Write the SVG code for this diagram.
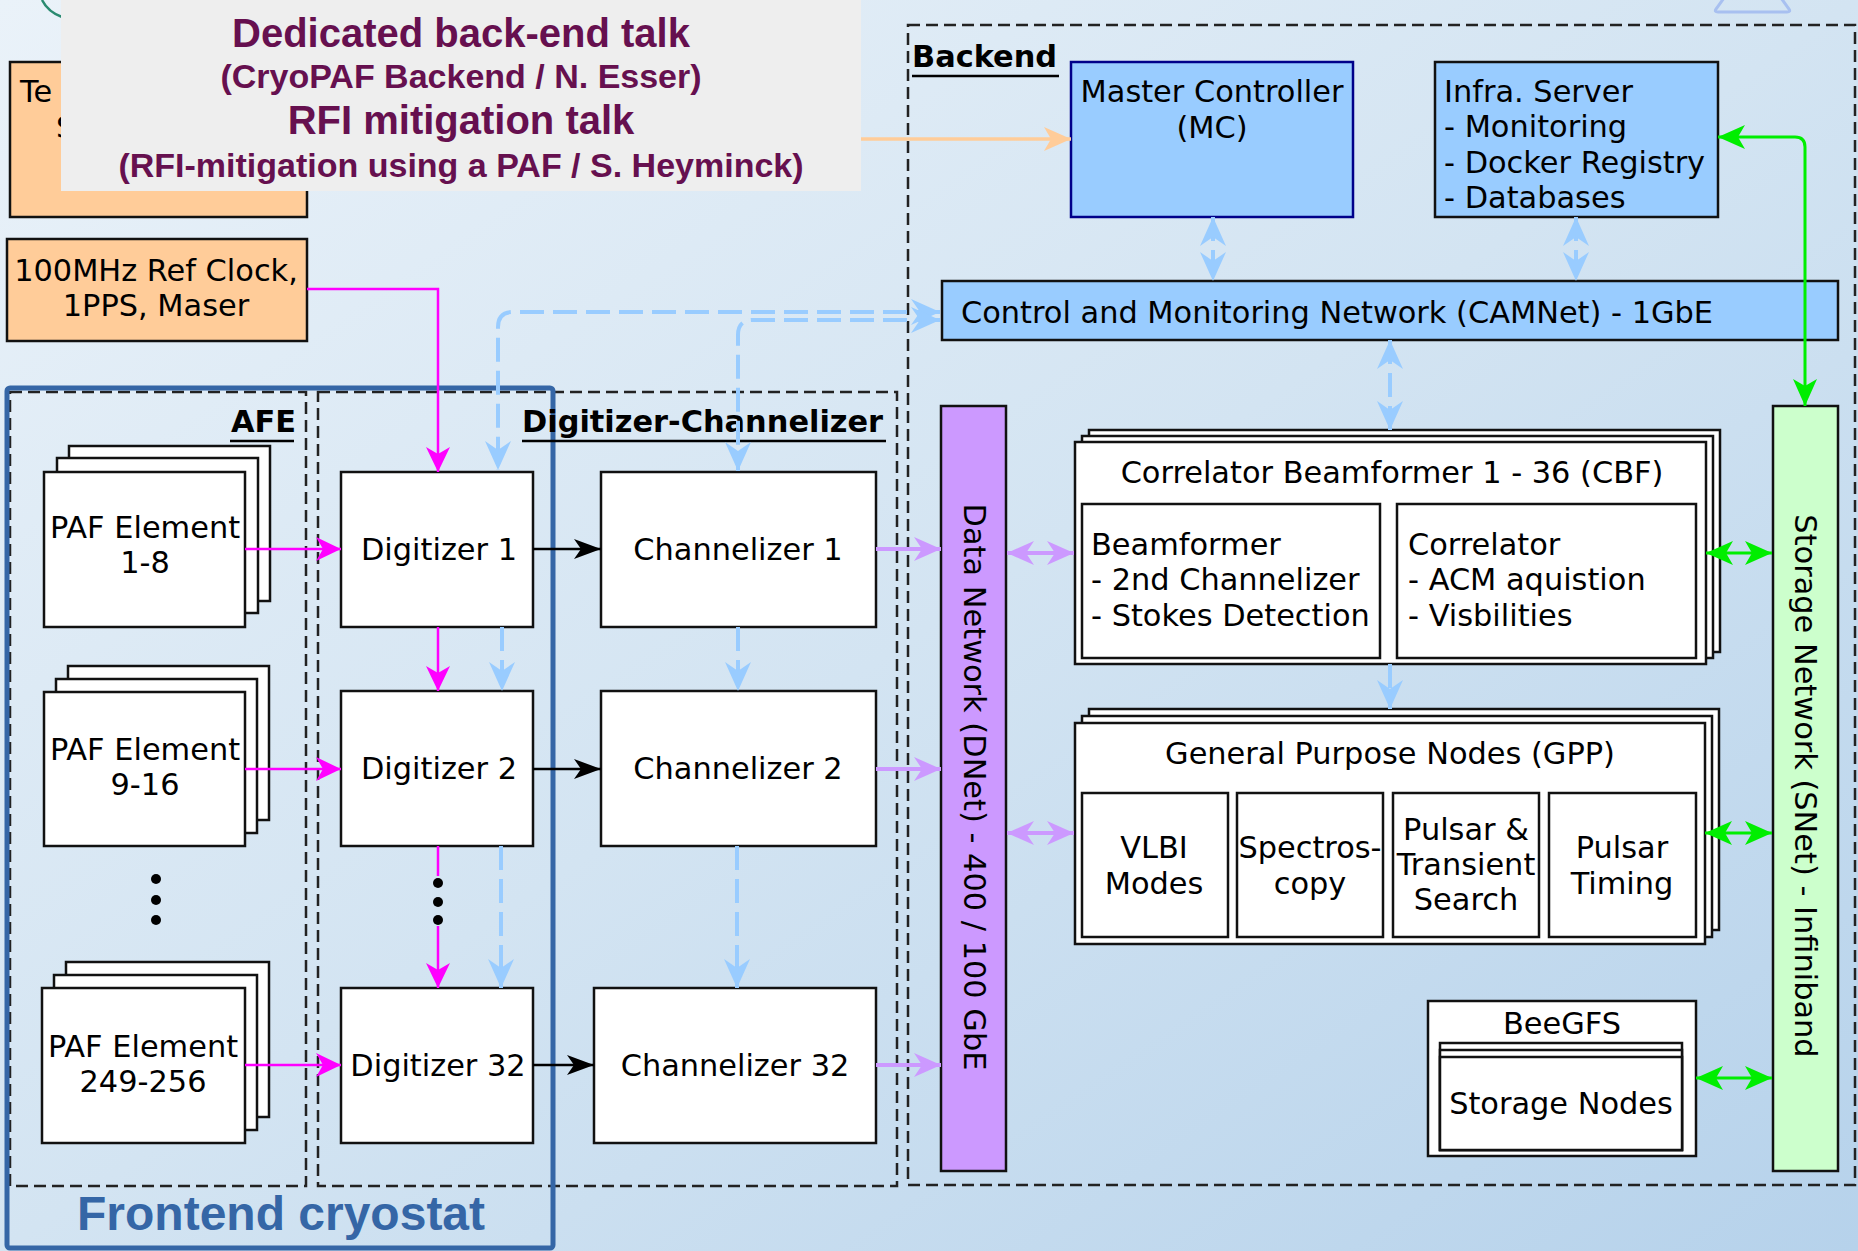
<svg xmlns="http://www.w3.org/2000/svg" width="1858" height="1251" viewBox="0 0 1858 1251">
<defs>
<linearGradient id="bg" x1="0" y1="0" x2="1" y2="1">
<stop offset="0" stop-color="#eaf2f9"/>
<stop offset="0.5" stop-color="#d3e4f2"/>
<stop offset="1" stop-color="#b6d2eb"/>
</linearGradient>
<marker id="mBlack" markerUnits="userSpaceOnUse" viewBox="0 0 28 22" markerWidth="28" markerHeight="22" refX="27" refY="11" orient="auto-start-reverse"><path d="M0,1 L27,11 L0,21 L7,11 z" fill="#000"/></marker>
<marker id="mMag" markerUnits="userSpaceOnUse" viewBox="0 0 26 24" markerWidth="26" markerHeight="24" refX="25" refY="12" orient="auto-start-reverse"><path d="M0,0 L25,12 L0,24 L7,12 z" fill="#ff00ff"/></marker>
<marker id="mBlue" markerUnits="userSpaceOnUse" viewBox="0 0 30 26" markerWidth="30" markerHeight="26" refX="29" refY="13" orient="auto-start-reverse"><path d="M0,0 L29,13 L0,26 L9,13 z" fill="#99ccff"/></marker>
<marker id="mPurple" markerUnits="userSpaceOnUse" viewBox="0 0 28 24" markerWidth="28" markerHeight="24" refX="27" refY="12" orient="auto-start-reverse"><path d="M0,0 L27,12 L0,24 L8,12 z" fill="#cc99ff"/></marker>
<marker id="mGreen" markerUnits="userSpaceOnUse" viewBox="0 0 28 24" markerWidth="28" markerHeight="24" refX="27" refY="12" orient="auto-start-reverse"><path d="M0,0 L27,12 L0,24 L7,12 z" fill="#00ee00"/></marker>
<marker id="mOrange" markerUnits="userSpaceOnUse" viewBox="0 0 28 24" markerWidth="28" markerHeight="24" refX="27" refY="12" orient="auto-start-reverse"><path d="M0,0 L27,12 L0,24 L7,12 z" fill="#ffcc99"/></marker>
</defs>
<style>
text{font-family:"DejaVu Sans","Liberation Sans",sans-serif;font-size:30.4px;fill:#000}
.c{text-anchor:middle}
.b{font-weight:bold}
.box{fill:#fff;stroke:#111;stroke-width:2.5}
.orange{fill:#ffcc99;stroke:#111;stroke-width:2.5}
.lblue{fill:#99ccff;stroke:#111;stroke-width:2.5}
.grp{fill:none;stroke:#222;stroke-width:2.5;stroke-dasharray:12 6}
.ul{stroke:#000;stroke-width:2.5}
.mag{fill:none;stroke:#ff00ff;stroke-width:2.5}
.blk{fill:none;stroke:#000;stroke-width:2.5}
.bd{fill:none;stroke:#99ccff;stroke-width:4;stroke-dasharray:24 9}
.pur{fill:none;stroke:#cc99ff;stroke-width:4}
.grn{fill:none;stroke:#00ee00;stroke-width:3}
.org{fill:none;stroke:#ffcc99;stroke-width:3.5}
.ann{font-family:"Liberation Sans",Arial,sans-serif;font-weight:bold;fill:#66104f;text-anchor:middle}
</style>
<rect x="0" y="0" width="1858" height="1251" fill="url(#bg)"/>
<path d="M42,0 Q48,12 62,17" fill="none" stroke="#2a8a70" stroke-width="2.5"/>
<path d="M1724,-2 L1716,9 Q1714,12 1718,12 L1787,12 Q1791,12 1789,9 L1781,-2" fill="none" stroke="#a8c0f0" stroke-width="3"/>

<g id="groups">
<rect class="grp" x="908" y="25" width="947" height="1160"/>
<rect class="grp" x="10" y="392" width="296" height="794"/>
<rect class="grp" x="318" y="392" width="579" height="794"/>
<rect x="7" y="388" width="546" height="860" rx="3" fill="none" stroke="#3566a6" stroke-width="5"/>
<text class="b" x="912" y="67">Backend</text><line class="ul" x1="912" y1="76" x2="1059" y2="76"/>
<text class="b" x="231" y="432">AFE</text><line class="ul" x1="230" y1="441" x2="294" y2="441"/>
<text class="b" x="522" y="432">Digitizer-Channelizer</text><line class="ul" x1="522" y1="441" x2="886" y2="441"/>
<text x="77" y="1230" style="font-family:'Liberation Sans',Arial,sans-serif;font-weight:bold;font-size:48px;fill:#3566a6">Frontend cryostat</text>
</g>

<g id="telescope"><rect class="orange" x="10" y="62" width="297" height="155"/><text x="20" y="102">Te</text><text x="56" y="138">S</text></g>
<g id="refclock"><rect class="orange" x="7" y="239" width="300" height="102"/><text class="c" x="156" y="281">100MHz Ref Clock,</text><text class="c" x="156" y="316">1PPS, Maser</text></g>

<g id="paf1"><rect class="box" x="69" y="446" width="201" height="155"/><rect class="box" x="57" y="458" width="201" height="155"/><rect class="box" x="44" y="472" width="201" height="155"/><text class="c" x="145" y="538">PAF Element</text><text class="c" x="145" y="573">1-8</text></g>
<g id="paf2"><rect class="box" x="68" y="666" width="201" height="154"/><rect class="box" x="56" y="679" width="201" height="154"/><rect class="box" x="44" y="692" width="201" height="154"/><text class="c" x="145" y="760">PAF Element</text><text class="c" x="145" y="795">9-16</text></g>
<g id="pafdots"><circle cx="156" cy="879" r="5"/><circle cx="156" cy="900" r="5"/><circle cx="156" cy="920" r="5"/></g>
<g id="paf3"><rect class="box" x="66" y="962" width="203" height="155"/><rect class="box" x="54" y="975" width="203" height="155"/><rect class="box" x="42" y="988" width="203" height="155"/><text class="c" x="143" y="1057">PAF Element</text><text class="c" x="143" y="1092">249-256</text></g>

<g id="dig1"><rect class="box" x="341" y="472" width="192" height="155"/><text class="c" x="439" y="560">Digitizer 1</text></g>
<g id="dig2"><rect class="box" x="341" y="691" width="192" height="155"/><text class="c" x="439" y="779">Digitizer 2</text></g>
<g id="dig32"><rect class="box" x="341" y="988" width="192" height="155"/><text class="c" x="438" y="1076">Digitizer 32</text></g>
<g id="ch1"><rect class="box" x="601" y="472" width="275" height="155"/><text class="c" x="738" y="560">Channelizer 1</text></g>
<g id="ch2"><rect class="box" x="601" y="691" width="275" height="155"/><text class="c" x="738" y="779">Channelizer 2</text></g>
<g id="ch32"><rect class="box" x="594" y="988" width="282" height="155"/><text class="c" x="735" y="1076">Channelizer 32</text></g>

<g id="mc"><rect x="1071" y="62" width="282" height="155" fill="#99ccff" stroke="#00008a" stroke-width="2.5"/><text class="c" x="1212" y="102">Master Controller</text><text class="c" x="1212" y="138">(MC)</text></g>
<g id="infra"><rect class="lblue" x="1435" y="62" width="283" height="155"/><text x="1444" y="102">Infra. Server</text><text x="1444" y="137">- Monitoring</text><text x="1444" y="173">- Docker Registry</text><text x="1444" y="208">- Databases</text></g>
<g id="camnet"><rect class="lblue" x="942" y="281" width="896" height="59"/><text x="961" y="323">Control and Monitoring Network (CAMNet) - 1GbE</text></g>
<g id="dnet"><rect x="941" y="406" width="65" height="765" fill="#cc99ff" stroke="#111" stroke-width="2.5"/><text class="c" dominant-baseline="central" transform="translate(974,787) rotate(90)">Data Network (DNet) - 400 / 100 GbE</text></g>
<g id="snet"><rect x="1773" y="406" width="65" height="765" fill="#ccffcc" stroke="#111" stroke-width="2.5"/><text class="c" dominant-baseline="central" transform="translate(1805,786) rotate(90)">Storage Network (SNet) - Infiniband</text></g>

<g id="cbf"><rect class="box" x="1089" y="430" width="631" height="222"/><rect class="box" x="1082" y="436" width="631" height="222"/><rect class="box" x="1075" y="442" width="631" height="222"/><text class="c" x="1392" y="483">Correlator Beamformer 1 - 36 (CBF)</text>
<rect class="box" x="1082" y="504" width="298" height="154"/><text x="1091" y="555">Beamformer</text><text x="1091" y="590">- 2nd Channelizer</text><text x="1091" y="626">- Stokes Detection</text>
<rect class="box" x="1397" y="504" width="299" height="154"/><text x="1408" y="555">Correlator</text><text x="1408" y="590">- ACM aquistion</text><text x="1408" y="626">- Visbilities</text></g>

<g id="gpp"><rect class="box" x="1089" y="709" width="630" height="221"/><rect class="box" x="1082" y="716" width="630" height="221"/><rect class="box" x="1075" y="723" width="630" height="221"/><text class="c" x="1390" y="764">General Purpose Nodes (GPP)</text>
<rect class="box" x="1082" y="793" width="146" height="144"/><text class="c" x="1154" y="858">VLBI</text><text class="c" x="1154" y="894">Modes</text>
<rect class="box" x="1237" y="793" width="146" height="144"/><text class="c" x="1310" y="858">Spectros-</text><text class="c" x="1310" y="894">copy</text>
<rect class="box" x="1393" y="793" width="146" height="144"/><text class="c" x="1466" y="840">Pulsar &amp;</text><text class="c" x="1466" y="875">Transient</text><text class="c" x="1466" y="910">Search</text>
<rect class="box" x="1549" y="793" width="147" height="144"/><text class="c" x="1622" y="858">Pulsar</text><text class="c" x="1622" y="894">Timing</text></g>

<g id="beegfs"><rect class="box" x="1428" y="1001" width="268" height="155"/><text class="c" x="1562" y="1034">BeeGFS</text>
<rect class="box" x="1440" y="1043" width="242" height="107"/><rect class="box" x="1440" y="1050" width="242" height="100"/><rect class="box" x="1440" y="1057" width="242" height="93"/><text class="c" x="1561" y="1114">Storage Nodes</text></g>

<g id="connectors">
<path class="org" d="M307,139 H1071" marker-end="url(#mOrange)"/>
<path class="mag" d="M307,289 H438 V472" marker-end="url(#mMag)"/>
<path class="mag" d="M245,549 H341" marker-end="url(#mMag)"/>
<path class="mag" d="M245,769 H341" marker-end="url(#mMag)"/>
<path class="mag" d="M245,1065 H341" marker-end="url(#mMag)"/>
<path class="mag" d="M438,627 V691" marker-end="url(#mMag)"/>
<path class="mag" d="M438,846 V876"/>
<path class="mag" d="M438,926 V988" marker-end="url(#mMag)"/>
<circle cx="438" cy="883" r="5"/><circle cx="438" cy="902" r="5"/><circle cx="438" cy="920" r="5"/>
<path class="blk" d="M533,549 H601" marker-end="url(#mBlack)"/>
<path class="blk" d="M533,769 H601" marker-end="url(#mBlack)"/>
<path class="blk" d="M533,1065 H594" marker-end="url(#mBlack)"/>
<path class="bd" d="M940,312 H513 Q498,312 498,327 V470" marker-start="url(#mBlue)" marker-end="url(#mBlue)"/>
<path class="bd" d="M940,320 H753 Q738,320 738,335 V471" marker-start="url(#mBlue)" marker-end="url(#mBlue)"/>
<path class="bd" d="M502,627 V691" marker-end="url(#mBlue)"/>
<path class="bd" d="M501,846 V988" marker-end="url(#mBlue)"/>
<path class="bd" d="M738,627 V691" marker-end="url(#mBlue)"/>
<path class="bd" d="M737,846 V988" marker-end="url(#mBlue)"/>
<path class="bd" d="M1213,217 V281" marker-start="url(#mBlue)" marker-end="url(#mBlue)"/>
<path class="bd" d="M1576,217 V281" marker-start="url(#mBlue)" marker-end="url(#mBlue)"/>
<path class="bd" d="M1390,340 V430" marker-start="url(#mBlue)" marker-end="url(#mBlue)"/>
<path class="bd" d="M1390,664 V709" marker-end="url(#mBlue)"/>
<path class="pur" d="M876,549 H941" marker-end="url(#mPurple)"/>
<path class="pur" d="M876,769 H941" marker-end="url(#mPurple)"/>
<path class="pur" d="M876,1065 H941" marker-end="url(#mPurple)"/>
<path class="pur" d="M1007,553 H1074" marker-start="url(#mPurple)" marker-end="url(#mPurple)"/>
<path class="pur" d="M1007,833 H1074" marker-start="url(#mPurple)" marker-end="url(#mPurple)"/>
<path class="grn" d="M1718,137 H1795 Q1805,137 1805,147 V406" marker-start="url(#mGreen)" marker-end="url(#mGreen)"/>
<path class="grn" d="M1706,553 H1772" marker-start="url(#mGreen)" marker-end="url(#mGreen)"/>
<path class="grn" d="M1705,833 H1772" marker-start="url(#mGreen)" marker-end="url(#mGreen)"/>
<path class="grn" d="M1696,1078 H1772" marker-start="url(#mGreen)" marker-end="url(#mGreen)"/>
</g>

<g id="talks">
<rect x="61" y="0" width="800" height="191" fill="#eeeeee"/>
<text class="ann" x="461" y="47" style="font-size:40px">Dedicated back-end talk</text>
<text class="ann" x="461" y="88" style="font-size:34px">(CryoPAF Backend / N. Esser)</text>
<text class="ann" x="461" y="134" style="font-size:40px">RFI mitigation talk</text>
<text class="ann" x="461" y="177" style="font-size:34px">(RFI-mitigation using a PAF / S. Heyminck)</text>
</g>
</svg>
